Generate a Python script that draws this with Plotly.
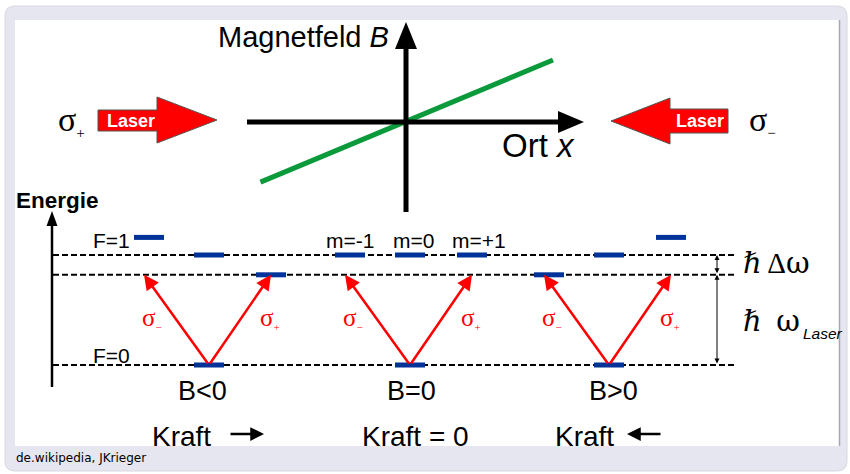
import plotly.graph_objects as go

# ---------------- data ----------------
# Magnetic field along x (arbitrary units), linear through the origin
field_ort = [-0.99, 1.0]
field_B = [-0.97, 1.0]

# Three cases of the magnetic field
B_cases = ["B<0", "B=0", "B>0"]
kraft_labels = ["Kraft", "Kraft = 0", "Kraft"]
kraft_dir = [1, 0, -1]          # direction of the force arrow
m_labels = ["m=-1", "m=0", "m=+1"]

# Energies (arb. units, ground state = 0)
E_ground = 0.0
E_F1 = 1.0
E_laser = 0.82
# F=1 sublevel energies for m = -1, 0, +1 in each case
E_excited = [
    [1.16, 1.0, 0.82],
    [1.0, 1.0, 1.0],
    [0.82, 1.0, 1.16],
]
sub_style = "<span style='font-size:{}px'>{}</span>"
sigma_signs = ["−", "+"]

# ---------------- layout constants ----------------
W, H = 850, 474
group_x = [209, 410, 609]
m_dx = [-60, 0, 62]
bar_hw = 15
tip_dx = [-65, 62]
lab_dx = [-57, 61]
BLUE = "#003399"
RED = "#ff0000"
LAV = "#e6e6f1"
SANS = "Liberation Sans, Arial, sans-serif"
SERIF = "Liberation Serif, DejaVu Serif, serif"
OMEGA = "<span style='font-family:DejaVu Serif'>ω</span>"

# energy axis (y2): E=0 -> pixel 365, 1 unit = 110 px
e0_px, e_scale = 365, 110.0
y2_range = [(e0_px - H) / e_scale, e0_px / e_scale]
# field axes (x3,y3): origin at pixel (406,122)
ox, oy, sx, sy = 406, 122, 147.0, 62.0
x3_range = [-ox / sx, (W - ox) / sx]
y3_range = [(oy - H) / sy, oy / sy]

fig = go.Figure()

# green field line
fig.add_trace(go.Scatter(x=field_ort, y=field_B, xaxis="x3", yaxis="y3",
                         mode="lines", line=dict(color="#0a9a3c", width=5),
                         hoverinfo="skip", showlegend=False))

shapes = []
ann = []

# frame
shapes.append(dict(type="path", xref="x", yref="y",
                   path="M 15,6 L 837,6 Q 847,6 847,16 L 847,461 Q 847,471 837,471 "
                        "L 15,471 Q 5,471 5,461 L 5,16 Q 5,6 15,6 Z",
                   fillcolor=LAV, line=dict(color="#d8d8e2", width=1), layer="below"))
shapes.append(dict(type="rect", xref="x", yref="y", x0=15, x1=839, y0=20, y1=446,
                   fillcolor="white", line=dict(width=0), layer="below"))
shapes.append(dict(type="line", xref="x", yref="y", x0=839.5, x1=839.5, y0=20, y1=446,
                   line=dict(color="#a8a8b0", width=1.5), layer="below"))

# B axis (vertical) and x axis (horizontal)
shapes.append(dict(type="line", xref="x", yref="y", x0=406, x1=406, y0=212, y1=46,
                   line=dict(color="black", width=5)))
shapes.append(dict(type="path", xref="x", yref="y",
                   path="M 406,22 L 417,49 L 395,49 Z", fillcolor="black", line=dict(width=0)))
shapes.append(dict(type="line", xref="x", yref="y", x0=247, x1=560, y0=122, y1=122,
                   line=dict(color="black", width=5)))
shapes.append(dict(type="path", xref="x", yref="y",
                   path="M 584,122 L 558,111 L 558,133 Z", fillcolor="black", line=dict(width=0)))

# laser arrows
shapes.append(dict(type="path", xref="x", yref="y",
                   path="M 98,110 L 157,110 L 157,97 L 217,120 L 157,143 L 157,131 L 98,131 Z",
                   fillcolor=RED, line=dict(color="#555555", width=1)))
shapes.append(dict(type="path", xref="x", yref="y",
                   path="M 728,109 L 670,109 L 670,98 L 611,121 L 670,144 L 670,133 L 728,133 Z",
                   fillcolor=RED, line=dict(color="#555555", width=1)))

# energy axis
shapes.append(dict(type="line", xref="x", yref="y", x0=52, x1=52, y0=387, y1=222,
                   line=dict(color="black", width=2.5)))
shapes.append(dict(type="path", xref="x", yref="y",
                   path="M 52,211 L 57.5,226 L 46.5,226 Z", fillcolor="black", line=dict(width=0)))

# dashed energy lines
for e in [E_F1, E_laser, E_ground]:
    shapes.append(dict(type="line", xref="x", yref="y2", x0=53, x1=735, y0=e, y1=e,
                       line=dict(color="black", width=2, dash="6px,3px")))

# blue sublevels
for g, levels in enumerate(E_excited):
    for k, e in enumerate(levels):
        cx = group_x[g] + m_dx[k]
        shapes.append(dict(type="line", xref="x", yref="y2", x0=cx - bar_hw, x1=cx + bar_hw,
                           y0=e, y1=e, line=dict(color=BLUE, width=5)))
    cx = group_x[g]
    shapes.append(dict(type="line", xref="x", yref="y2", x0=cx - bar_hw, x1=cx + bar_hw,
                       y0=E_ground, y1=E_ground, line=dict(color=BLUE, width=5)))


def sigma(sign, size):
    return "σ<sub>" + sub_style.format(size, sign) + "</sub>"


# red transition arrows and sigma labels
b_lab_dx = [-7, 1, 4]
for g in range(len(B_cases)):
    for s in range(2):
        ann.append(dict(x=group_x[g] + tip_dx[s], y=E_laser, xref="x", yref="y2",
                        ax=group_x[g], ay=E_ground, axref="x", ayref="y2",
                        text="", showarrow=True, arrowhead=2, arrowsize=1.2,
                        arrowwidth=2.5, arrowcolor=RED, standoff=0, startstandoff=0))
        ann.append(dict(x=group_x[g] + lab_dx[s], y=318, xref="x", yref="y",
                        text=sigma(sigma_signs[s], 11), showarrow=False,
                        xanchor="center", yanchor="middle",
                        font=dict(family=SERIF, size=25, color=RED)))
    ann.append(dict(x=group_x[g] + b_lab_dx[g], y=391,
                    xref="x", yref="y", text=B_cases[g], showarrow=False,
                    xanchor="center", yanchor="middle", font=dict(family=SANS, size=27, color="black")))

# double arrows on the right
ann.append(dict(x=717, y=E_F1, xref="x", yref="y2", ax=717, ay=E_laser, axref="x", ayref="y2",
                text="", showarrow=True, arrowhead=2, arrowside="end+start", arrowsize=1,
                arrowwidth=1, arrowcolor="black", standoff=0, startstandoff=0))
ann.append(dict(x=717, y=E_laser, xref="x", yref="y2", ax=717, ay=E_ground, axref="x", ayref="y2",
                text="", showarrow=True, arrowhead=2, arrowside="end+start", arrowsize=1,
                arrowwidth=1, arrowcolor="black", standoff=0, startstandoff=0))

# Kraft labels and arrows
kraft_x = [150, 360, 553]
for g in range(3):
    ann.append(dict(x=kraft_x[g], y=436, xref="x", yref="y", text=kraft_labels[g], showarrow=False,
                    xanchor="left", yanchor="middle", font=dict(family=SANS, size=28, color="black")))
kraft_arrow_x = [(229, 264), None, (662, 627)]
for g in range(3):
    if kraft_dir[g] != 0:
        a0, a1 = kraft_arrow_x[g]
        ann.append(dict(x=a1, y=434, xref="x", yref="y", ax=a0, ay=434, axref="x", ayref="y",
                        text="", showarrow=True, arrowhead=2, arrowsize=1.1, arrowwidth=2.5,
                        arrowcolor="black", standoff=0, startstandoff=0))

# m labels
m_lab_x = [350, 413, 479]
for k in range(3):
    ann.append(dict(x=m_lab_x[k], y=240, xref="x", yref="y", text=m_labels[k], showarrow=False,
                    xanchor="center", yanchor="middle", font=dict(family=SANS, size=21, color="black")))


def txt(x, y, t, size, family=SANS, color="black", xa="left"):
    ann.append(dict(x=x, y=y, xref="x", yref="y", text=t, showarrow=False,
                    xanchor=xa, yanchor="middle", font=dict(family=family, size=size, color=color)))


txt(91, 240, "F=1", 21)
txt(91, 355, "F=0", 21)
txt(14, 200, "<b>Energie</b>", 22.5)
txt(391, 37, "Magnetfeld <i>B</i>", 29, xa="right")
txt(500, 145, "Ort <i>x</i>", 33)
txt(131, 121, "<b>Laser</b>", 18, color="white", xa="center")
txt(700, 121, "<b>Laser</b>", 18, color="white", xa="center")
txt(56, 121, sigma("+", 15), 34, family=SERIF)
txt(747, 121, sigma("−", 15), 34, family=SERIF)
txt(741, 263, "ℏ Δ" + OMEGA, 29, family=SERIF)
txt(741, 321, "ℏ  " + OMEGA, 29, family=SERIF)
txt(801, 333, "<i>Laser</i>", 15.5)
txt(14, 458, "de.wikipedia, JKrieger", 12, family="DejaVu Sans")

fig.update_layout(
    width=W, height=H, margin=dict(l=0, r=0, t=0, b=0),
    paper_bgcolor="white", plot_bgcolor="white", showlegend=False,
    xaxis=dict(range=[0, W], visible=False, fixedrange=True),
    yaxis=dict(range=[H, 0], visible=False, fixedrange=True),
    yaxis2=dict(range=y2_range, visible=False, overlaying="y", anchor="x", fixedrange=True),
    xaxis3=dict(range=x3_range, visible=False, overlaying="x", anchor="y3", fixedrange=True),
    yaxis3=dict(range=y3_range, visible=False, overlaying="y", anchor="x3", fixedrange=True),
    shapes=shapes, annotations=ann,
)

fig.write_html("out.html", config={"displayModeBar": False},
               post_script="document.body.style.margin='0';")
